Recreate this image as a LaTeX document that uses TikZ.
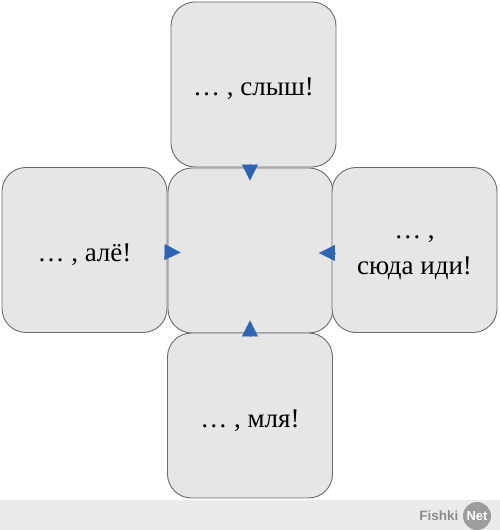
\documentclass[tikz,border=0pt]{standalone}
\usepackage{fontspec}
\setmainfont{Liberation Serif}
\newfontfamily\wmfont{Liberation Sans}
\usetikzlibrary{arrows.meta}
\definecolor{boxfill}{HTML}{E6E6E6}
\definecolor{boxline}{HTML}{6A6A6A}
\definecolor{tipblue}{RGB}{46,100,180}
\definecolor{bandgray}{HTML}{EBEBEB}
\definecolor{wmgray}{HTML}{8C8C8C}
\begin{document}
\begin{tikzpicture}[x=1pt,y=1pt,
  cell/.style={draw=boxline, line width=0.9pt, fill=boxfill, rounded corners=24pt,
    minimum width=165pt, minimum height=165pt, inner sep=0pt},
  celltext/.style={inner sep=0pt, align=center, font=\fontsize{27}{31}\selectfont},
  tip/.style={-{Triangle[length=16pt,width=16pt]}, color=tipblue, line width=0.1pt}
]
\useasboundingbox (0,0) rectangle (500,530);
\fill[white] (0,0) rectangle (500,530);
\fill[bandgray] (0,0) rectangle (500,30);
% boxes
\node[cell] (top) at (253.5,445.5) {};
\node[cell] (mid) at (250.5,279.5) {};
\node[cell] (left) at (84.5,280) {};
\node[cell] (right) at (414.5,280) {};
\node[cell] (bot) at (250,114.5) {};
% texts
\node[celltext] (toptext) at ([yshift=-4pt]top.center) {…~, слыш!};
\node[celltext] (lefttext) at ([yshift=-5pt]left.center) {…~, алё!};
\node[celltext] (righttext) at ([yshift=-8pt]right.center) {…~,\\[5pt]сюда иди!};
\node[celltext] (bottext) at ([yshift=-5pt]bot.center) {…~, мля!};
% arrowheads
\draw[tip] ([xshift=-3.5pt,yshift=3pt]top.south) -- ([xshift=-0.5pt,yshift=-13pt]mid.north);
\draw[tip] ([yshift=-2pt,xshift=-4pt]left.east) -- ([xshift=13pt,yshift=-2pt]mid.west);
\draw[tip] ([yshift=-3pt,xshift=3pt]right.west) -- ([xshift=-14.5pt,yshift=-2.5pt]mid.east);
\draw[tip] ([yshift=-4pt]bot.north) -- ([xshift=-0.5pt,yshift=13pt]mid.south);
% watermark
\node[font=\wmfont\bfseries\fontsize{13.5}{15}\selectfont, text=wmgray, anchor=east] (wm) at (462,14) {Fishki};
\node[circle, fill=wmgray!85, inner sep=0pt, minimum size=28pt, text=white,
  font=\wmfont\bfseries\fontsize{13}{15}\selectfont] (net) at (477,14) {Net};
\end{tikzpicture}
\end{document}
